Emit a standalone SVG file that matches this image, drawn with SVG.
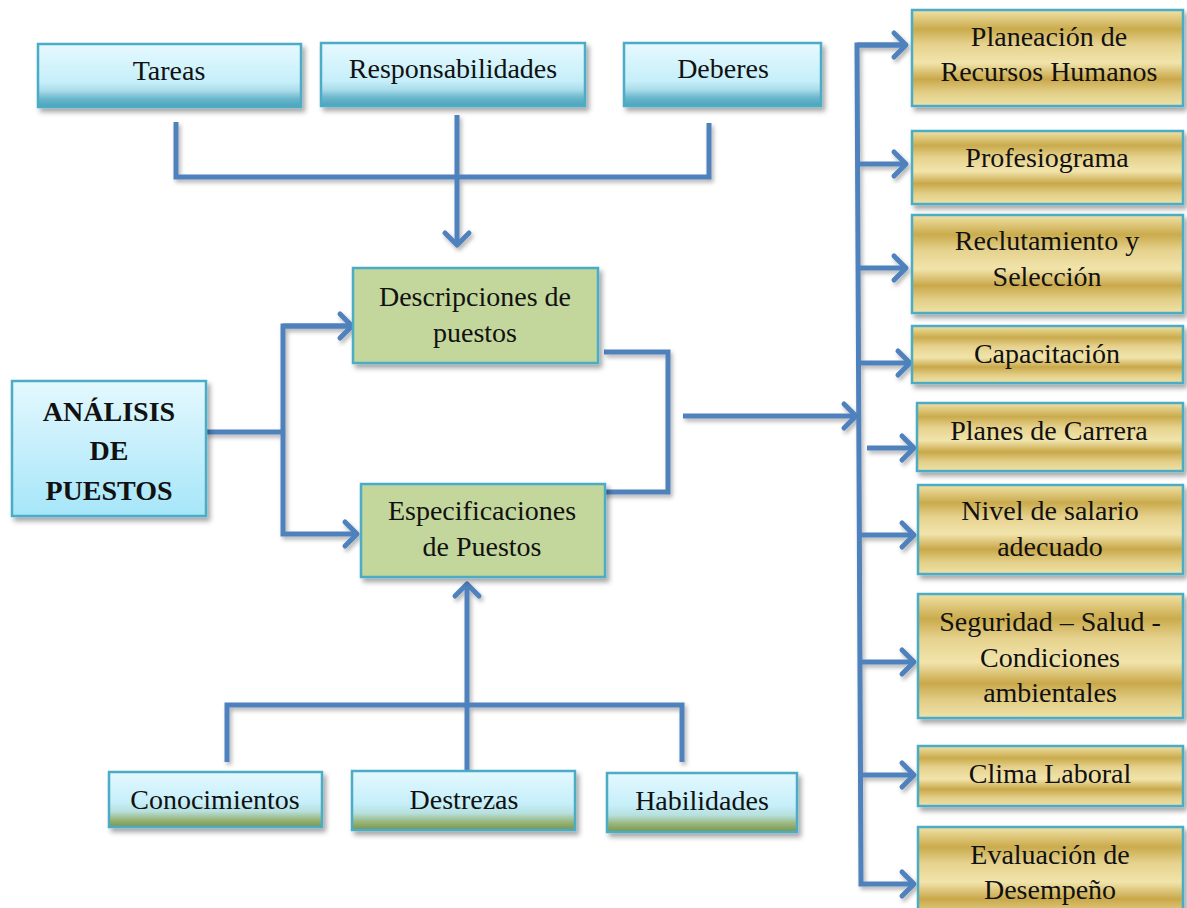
<svg xmlns="http://www.w3.org/2000/svg" width="1187" height="908" viewBox="0 0 1187 908">
<defs>
<linearGradient id="gBlue" x1="0" y1="0" x2="0" y2="1">
<stop offset="0" stop-color="#e6f9fe"/><stop offset="0.6" stop-color="#c6effa"/><stop offset="0.74" stop-color="#aadcea"/><stop offset="0.86" stop-color="#6db9ce"/><stop offset="1" stop-color="#4aa2bb"/>
</linearGradient>
<linearGradient id="gBlue2" x1="0" y1="0" x2="0" y2="1">
<stop offset="0" stop-color="#e4f8fe"/><stop offset="1" stop-color="#a6e6f9"/>
</linearGradient>
<linearGradient id="gGrass" x1="0" y1="0" x2="0" y2="1">
<stop offset="0" stop-color="#e4f8fe"/><stop offset="0.55" stop-color="#c6effa"/><stop offset="0.72" stop-color="#b6dfdc"/><stop offset="0.86" stop-color="#9ab67c"/><stop offset="1" stop-color="#78954c"/>
</linearGradient>
<linearGradient id="gGold" x1="0" y1="0" x2="0" y2="1">
<stop offset="0" stop-color="#f0e2a6"/><stop offset="0.2" stop-color="#caab4d"/><stop offset="0.36" stop-color="#e6d28e"/><stop offset="0.55" stop-color="#f1e4ab"/><stop offset="0.72" stop-color="#c9a84a"/><stop offset="0.86" stop-color="#e2ce86"/><stop offset="1" stop-color="#efe2a8"/>
</linearGradient>
<filter id="sh" x="-10%" y="-10%" width="130%" height="140%">
<feDropShadow dx="3" dy="4" stdDeviation="2.5" flood-color="#000" flood-opacity="0.35"/>
</filter>
<filter id="lsh" x="-10%" y="-10%" width="130%" height="130%">
<feDropShadow dx="2" dy="3" stdDeviation="2" flood-color="#000" flood-opacity="0.3"/>
</filter>
<marker id="ah" markerUnits="userSpaceOnUse" markerWidth="34" markerHeight="34" viewBox="0 0 34 34" refX="28" refY="17" orient="auto">
<path d="M16,5 L28,17 L16,29" fill="none" stroke="#4f81bd" stroke-width="5" stroke-linecap="round" stroke-linejoin="round"/>
</marker>
</defs>
<style>
.b{stroke:#4bacc6;stroke-width:2.5;filter:url(#sh)}
.blue{fill:url(#gBlue)}
.blue2{fill:url(#gBlue2)}
.grass{fill:url(#gGrass)}
.green{fill:#c3d69b}
.gold{fill:url(#gGold)}
.t{font-family:"Liberation Serif","Times New Roman",serif;font-size:28px;fill:#111;text-anchor:middle}
.bold{font-weight:bold}
.c{fill:none;stroke:#4f81bd;stroke-width:5}
</style>

<g id="connectors" filter="url(#lsh)">
<polyline class="c" points="176,122 176,177 709,177 709,123"/>
<line class="c" x1="457" y1="115" x2="457" y2="245" marker-end="url(#ah)"/>
<line class="c" x1="206" y1="432" x2="285" y2="432" stroke-width="6"/>
<polyline class="c" points="350,326 283,326 283,534 357,534" marker-end="url(#ah)"/>
<line class="c" x1="283" y1="326" x2="352" y2="326" marker-end="url(#ah)"/>
<polyline class="c" points="604,352 668,352 668,492 603,492"/>
<line class="c" x1="683" y1="416" x2="856" y2="416" marker-end="url(#ah)"/>
<polyline class="c" points="227,762 227,705 682,705 682,762"/>
<line class="c" x1="467" y1="770" x2="467" y2="584" marker-end="url(#ah)"/>
<polyline class="c" points="905,45 857,45 861,884 914,884" marker-end="url(#ah)"/>
<line class="c" x1="857" y1="45" x2="906" y2="45" marker-end="url(#ah)"/>
<line class="c" x1="858" y1="164" x2="906" y2="164" marker-end="url(#ah)"/>
<line class="c" x1="858" y1="268" x2="906" y2="268" marker-end="url(#ah)"/>
<line class="c" x1="858" y1="363" x2="910" y2="363" marker-end="url(#ah)"/>
<line class="c" x1="867" y1="448" x2="914" y2="448" marker-end="url(#ah)"/>
<line class="c" x1="859" y1="535" x2="914" y2="535" marker-end="url(#ah)"/>
<line class="c" x1="860" y1="662" x2="914" y2="662" marker-end="url(#ah)"/>
<line class="c" x1="860" y1="775" x2="914" y2="775" marker-end="url(#ah)"/>
</g>

<g id="tareas"><rect class="b blue" x="38" y="44" width="263" height="63"/><text class="t" x="169" y="80">Tareas</text></g>
<g id="responsabilidades"><rect class="b blue" x="321" y="43" width="264" height="63"/><text class="t" x="453" y="78">Responsabilidades</text></g>
<g id="deberes"><rect class="b blue" x="624" y="43" width="197" height="63"/><text class="t" x="723" y="78">Deberes</text></g>

<g id="descripciones"><rect class="b green" x="353" y="268" width="245" height="95"/><text class="t" x="475" y="306">Descripciones de</text><text class="t" x="475" y="342">puestos</text></g>
<g id="especificaciones"><rect class="b green" x="361" y="484" width="244" height="93"/><text class="t" x="482" y="520">Especificaciones</text><text class="t" x="482" y="556">de Puestos</text></g>

<g id="analisis"><rect class="b blue2" x="12" y="381" width="194" height="135"/><text class="t bold" x="109" y="421">ANÁLISIS</text><text class="t bold" x="109" y="460">DE</text><text class="t bold" x="109" y="500">PUESTOS</text></g>

<g id="conocimientos"><rect class="b grass" x="109" y="772" width="213" height="55"/><text class="t" x="215" y="809">Conocimientos</text></g>
<g id="destrezas"><rect class="b grass" x="352" y="771" width="223" height="59"/><text class="t" x="464" y="809">Destrezas</text></g>
<g id="habilidades"><rect class="b grass" x="607" y="773" width="190" height="59"/><text class="t" x="702" y="810">Habilidades</text></g>

<g id="planeacion"><rect class="b gold" x="912" y="10" width="271" height="96"/><text class="t" x="1049" y="46">Planeación de</text><text class="t" x="1049" y="81">Recursos Humanos</text></g>
<g id="profesiograma"><rect class="b gold" x="912" y="131" width="271" height="73"/><text class="t" x="1047" y="167">Profesiograma</text></g>
<g id="reclutamiento"><rect class="b gold" x="912" y="215" width="271" height="98"/><text class="t" x="1047" y="250">Reclutamiento y</text><text class="t" x="1047" y="286">Selección</text></g>
<g id="capacitacion"><rect class="b gold" x="912" y="326" width="271" height="57"/><text class="t" x="1047" y="363">Capacitación</text></g>
<g id="planes"><rect class="b gold" x="917" y="403" width="266" height="68"/><text class="t" x="1049" y="440">Planes de Carrera</text></g>
<g id="nivel"><rect class="b gold" x="918" y="485" width="265" height="89"/><text class="t" x="1050" y="520">Nivel de salario</text><text class="t" x="1050" y="556">adecuado</text></g>
<g id="seguridad"><rect class="b gold" x="918" y="594" width="265" height="124"/><text class="t" x="1050" y="631">Seguridad – Salud -</text><text class="t" x="1050" y="667">Condiciones</text><text class="t" x="1050" y="702">ambientales</text></g>
<g id="clima"><rect class="b gold" x="918" y="746" width="265" height="60"/><text class="t" x="1050" y="783">Clima Laboral</text></g>
<g id="evaluacion"><rect class="b gold" x="918" y="827" width="265" height="100"/><text class="t" x="1050" y="864">Evaluación de</text><text class="t" x="1050" y="899">Desempeño</text></g>
</svg>
